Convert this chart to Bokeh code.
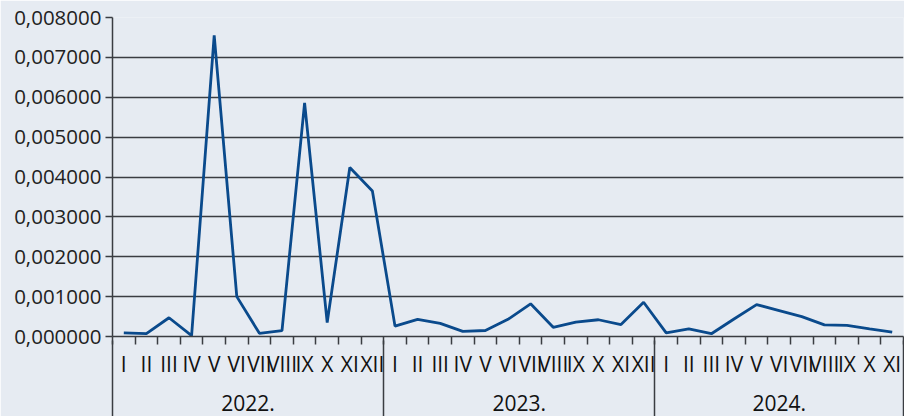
from bokeh.plotting import figure
from bokeh.models import Range1d, FixedTicker, LinearAxis, CustomJSTickFormatter
from bokeh.embed import file_html
from bokeh.resources import INLINE
import numpy as np

years = ["2022.", "2023.", "2024."]
months_2022 = ["I", "II", "III", "IV", "V", "VI", "VII", "VIII", "IX", "X", "XI", "XII"]
months_2023 = ["I", "II", "III", "IV", "V", "VI", "VII", "VIII", "IX", "X", "XI", "XII"]
months_2024 = ["I", "II", "III", "IV", "V", "VI", "VII", "VIII", "IX", "X", "XI"]

values_2022 = [0.00009, 0.00007, 0.00047, 0.00002, 0.00755, 0.00100,
               0.00008, 0.00015, 0.00586, 0.00035, 0.00424, 0.00365]
values_2023 = [0.00026, 0.00043, 0.00033, 0.00013, 0.00015, 0.00043,
               0.00082, 0.00023, 0.00036, 0.00042, 0.00030, 0.00086]
values_2024 = [0.00009, 0.00019, 0.00007, 0.00044, 0.00080, 0.00065,
               0.00050, 0.00029, 0.00028, 0.00019, 0.00011]

y_ticks = [0.0, 0.001, 0.002, 0.003, 0.004, 0.005, 0.006, 0.007, 0.008]

BG = "#e6ebf2"
DARK = "#3a3d42"
LINE = "#0a4a8c"
FONT = "Open Sans"

month_groups = [months_2022, months_2023, months_2024]
all_months = months_2022 + months_2023 + months_2024
all_values = values_2022 + values_2023 + values_2024
n = len(all_values)
x = np.arange(n)

# group boundaries and centers
sizes = [len(g) for g in month_groups]
bounds = [-0.5]
for s in sizes:
    bounds.append(bounds[-1] + s)
centers = [(bounds[i] + bounds[i + 1]) / 2 for i in range(len(sizes))]

p = figure(width=904, height=416, output_backend="svg", toolbar_location=None,
           x_range=Range1d(-0.5, n - 0.5), y_range=Range1d(0, 0.008),
           min_border_left=112, min_border_right=1, min_border_top=17,
           min_border_bottom=80)
p.background_fill_color = BG
p.border_fill_color = BG
p.outline_line_color = None

p.line(x, all_values, line_color=LINE, line_width=2.8)

# grids
p.xgrid.visible = False
p.ygrid.ticker = FixedTicker(ticks=y_ticks)
p.ygrid.grid_line_color = DARK
p.ygrid.grid_line_width = 1.6

# y axis
ya = p.yaxis[0]
ya.ticker = FixedTicker(ticks=y_ticks)
ya.formatter = CustomJSTickFormatter(code="return tick.toFixed(6).replace('.', ',')")
ya.axis_line_color = DARK
ya.axis_line_width = 1.5
ya.major_tick_line_color = DARK
ya.major_tick_line_width = 1.5
ya.major_tick_out = 7
ya.major_tick_in = 0
ya.minor_tick_line_color = None
ya.major_label_text_font = FONT
ya.major_label_text_font_size = "20.5px"
ya.major_label_text_color = "#222222"
ya.major_label_standoff = 4

# month axis
xa = p.xaxis[0]
xa.ticker = FixedTicker(ticks=list(x), minor_ticks=list(np.arange(-0.5, n, 1.0)))
xa.formatter = CustomJSTickFormatter(args=dict(labels=all_months),
                                     code="const i = Math.round(tick); return (i >= 0 && i < labels.length) ? labels[i] : '';")
xa.axis_line_color = DARK
xa.axis_line_width = 1.5
xa.major_tick_line_color = None
xa.major_tick_out = 8
xa.major_tick_in = 0
xa.minor_tick_line_color = DARK
xa.minor_tick_line_width = 1.5
xa.minor_tick_out = 8
xa.minor_tick_in = 0
xa.major_label_text_font = FONT
xa.major_label_text_font_size = "21px"
xa.major_label_text_color = "#111111"
xa.major_label_standoff = 5

# year axis
ya2 = LinearAxis(ticker=FixedTicker(ticks=centers, minor_ticks=bounds),
                 formatter=CustomJSTickFormatter(args=dict(years=years),
                                                 code="return years[index] || '';"))
ya2.axis_line_color = None
ya2.major_tick_line_color = None
ya2.major_tick_out = 0
ya2.major_tick_in = 0
ya2.minor_tick_line_color = DARK
ya2.minor_tick_line_width = 1.5
ya2.minor_tick_in = 40
ya2.minor_tick_out = 40
ya2.major_label_text_font = FONT
ya2.major_label_text_font_size = "21px"
ya2.major_label_text_color = "#111111"
ya2.major_label_standoff = -26
p.add_layout(ya2, "below")

open("out.html", "w").write(file_html(p, INLINE))
